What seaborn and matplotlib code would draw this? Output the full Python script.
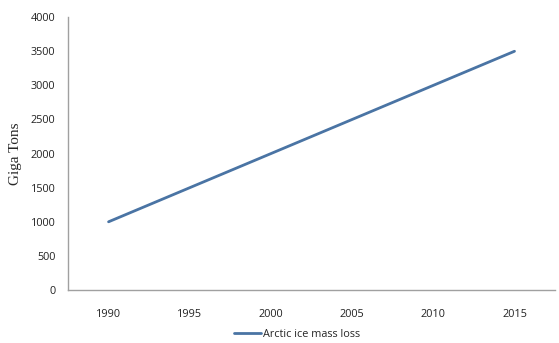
import matplotlib
matplotlib.use("Agg")
import matplotlib.pyplot as plt
import seaborn as sns
import pandas as pd

years = ["1990", "1995", "2000", "2005", "2010", "2015"]
mass_loss = [1000, 1500, 2000, 2500, 3000, 3500]
series_name = "Arctic ice mass loss"

sns.set_style("white")
plt.rcParams['font.family'] = ['Open Sans', 'DejaVu Sans']

df = pd.DataFrame({"year": years, "value": mass_loss, "series": series_name})

fig = plt.figure(figsize=(5.59, 3.43), dpi=100)
ax = fig.add_axes([0.1216, 0.1545, 0.8714, 0.7955])
sns.lineplot(data=df, x="year", y="value", hue="series", palette=["#4A74A4"],
             linewidth=2.0, ax=ax, sort=False)

ax.set_xlim(-0.5, 5.5)
ax.set_ylim(0, 4000)
ax.set_yticks(range(0, 4001, 500))
ax.tick_params(axis="both", labelsize=7.8, colors="#222222", length=0)
ax.tick_params(axis="x", pad=14)
ax.tick_params(axis="y", pad=9)
for s in ["top", "right"]:
    ax.spines[s].set_visible(False)
for s in ["left", "bottom"]:
    ax.spines[s].set_color("#A0A0A0")
    ax.spines[s].set_linewidth(1.0)
ax.set_xlabel("")
ax.set_ylabel("Giga Tons", family="Liberation Serif", fontsize=11, labelpad=6)

leg = ax.legend(loc="upper center", bbox_to_anchor=(0.47, -0.135), frameon=False,
                fontsize=7.8, handlelength=2.5, handletextpad=0.2,
                borderaxespad=0.0, borderpad=0.2)

fig.savefig("out.png", dpi=100)
